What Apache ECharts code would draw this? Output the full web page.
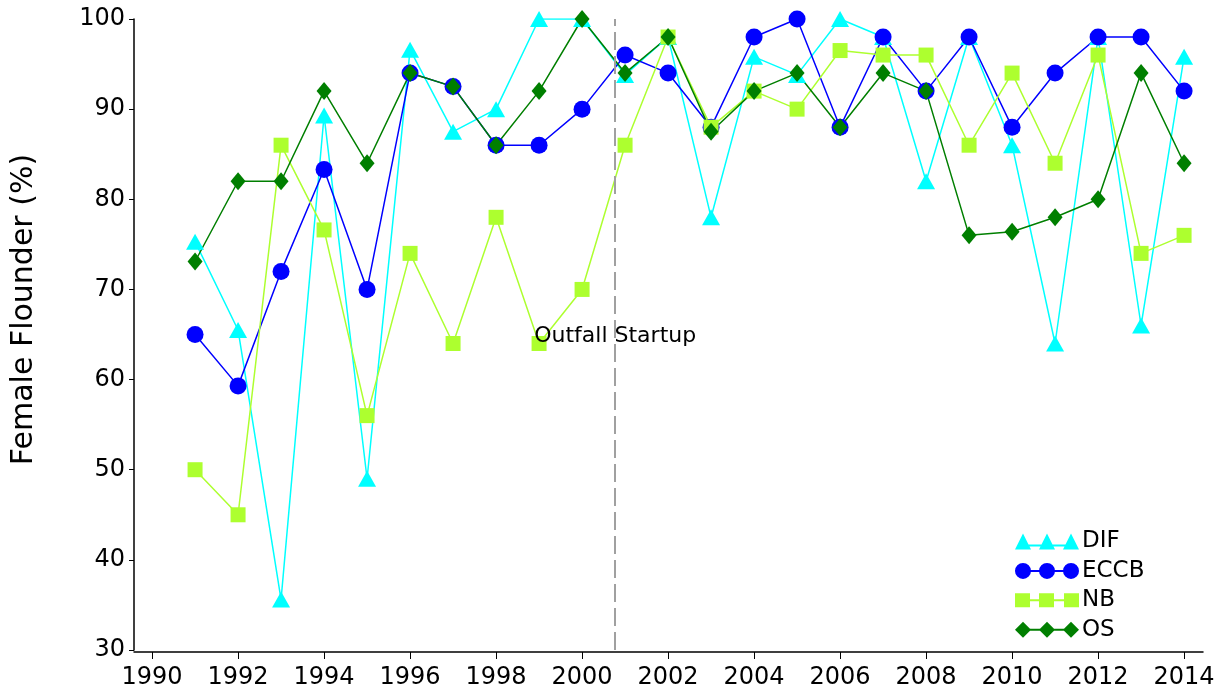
<!DOCTYPE html>
<html>
<head>
<meta charset="utf-8">
<script src="https://cdn.jsdelivr.net/npm/echarts@6/dist/echarts.min.js"></script>
<style>
  html, body { margin: 0; padding: 0; background: #fff; }
  #main { width: 1228px; height: 694px; }
</style>
</head>
<body>
<div id="main"></div>
<script>
//图表容器
let chart = echarts.init(document.getElementById('main'));

//年份
let years = [1991, 1992, 1993, 1994, 1995, 1996, 1997, 1998, 1999, 2000, 2001, 2002,
             2003, 2004, 2005, 2006, 2007, 2008, 2009, 2010, 2011, 2012, 2013, 2014];
//各站点雌性比例 (%)
let dif  = [75.3, 65.5, 35.6, 89.3, 49, 96.6, 87.5, 90, 100, 100, 93.8, 98,
            78, 95.8, 93.8, 100, 98, 82, 98, 86, 64, 98, 66, 95.8];
let eccb = [65, 59.3, 72, 83.3, 70, 94, 92.5, 86, 86, 90, 96, 94,
            88, 98, 100, 88, 98, 92, 98, 88, 94, 98, 98, 92];
let nb   = [50, 45, 86, 76.6, 56, 74, 64, 78, 64, 70, 86, 98,
            88, 92, 90, 96.5, 96, 96, 86, 94, 84, 96, 74, 76];
let os   = [73.1, 82, 82, 92, 84, 94, 92.5, 86, 92, 100, 94, 98,
            87.5, 92, 94, 88, 94, 92, 76, 76.4, 78, 80, 94, 84];
//x轴刻度
let xTicks = [1990, 1992, 1994, 1996, 1998, 2000, 2002, 2004, 2006, 2008, 2010, 2012, 2014];
//排污口启用时间
let startup = 2000.77;
let startupLabel = 'Outfall Startup';

let font = 'DejaVu Sans';

//组装 [年份, 值]
let pairs = function (vals) {
    let res = [];
    for (let i = 0; i < years.length; i++) {
        res.push([years[i], vals[i]]);
    }
    return res;
};

//图例图标：三个符号加连线
let icons = {
    'DIF': 'path://M0 16L8 0L16 16ZM24 16L32 0L40 16ZM48 16L56 0L64 16ZM8 11H56V13H8Z',
    'ECCB': 'path://M0 8A8 8 0 1 1 16 8A8 8 0 1 1 0 8ZM24 8A8 8 0 1 1 40 8A8 8 0 1 1 24 8ZM48 8A8 8 0 1 1 64 8A8 8 0 1 1 48 8ZM15 7H25V9H15ZM39 7H49V9H39Z',
    'NB': 'path://M0 1H15V15H0ZM24 1H39V15H24ZM49 1H64V15H49ZM14 7H25V9H14ZM38 7H50V9H38Z',
    'OS': 'path://M8 0L16 8L8 16L0 8ZM32 0L40 8L32 16L24 8ZM56 0L64 8L56 16L48 8ZM15 7H25V9H15ZM39 7H49V9H39Z'
};

function makeSeries(name, vals, color, symbol, size) {
    return {
        name: name,
        type: 'line',
        data: pairs(vals),
        symbol: symbol,
        symbolSize: size,
        showAllSymbol: true,
        lineStyle: { color: color, width: 1.5 },
        itemStyle: { color: color },
        emphasis: { disabled: true },
        animation: false
    };
}

let series = [
    makeSeries('DIF', dif, '#00FFFF', 'triangle', [18, 16]),
    makeSeries('ECCB', eccb, '#0000FF', 'circle', 17),
    makeSeries('NB', nb, '#ADFF2F', 'rect', 15),
    makeSeries('OS', os, '#007F00', 'diamond', [15, 18])
];

//启用线与文字
series[0].markLine = {
    silent: true,
    symbol: 'none',
    label: { show: false },
    lineStyle: { color: '#a0a0a0', width: 2, type: [18, 6] },
    data: [{ xAxis: startup }]
};
series[0].markPoint = {
    silent: true,
    symbol: 'circle',
    symbolSize: 0,
    label: {
        show: true,
        position: 'inside',
        formatter: startupLabel,
        color: '#000',
        fontFamily: font,
        fontSize: 22
    },
    data: [{ coord: [startup, 64.8] }]
};

let option = {
    backgroundColor: '#fff',
    textStyle: { fontFamily: font },
    grid: { left: 134, right: 25, top: 19, bottom: 44 },
    legend: {
        orient: 'vertical',
        left: 1015,
        top: 530,
        itemWidth: 64,
        itemHeight: 16,
        itemGap: 6.4,
        padding: 0,
        textStyle: { fontFamily: font, fontSize: 23, color: '#000', padding: [0, 0, 0, -2] },
        data: ['DIF', 'ECCB', 'NB', 'OS'].map(function (n) {
            return { name: n, icon: icons[n] };
        })
    },
    xAxis: {
        type: 'value',
        min: 1989.58,
        max: 2014.44,
        offset: 2,
        splitLine: { show: false },
        axisLine: { lineStyle: { color: '#000', width: 1.5 } },
        axisTick: { show: true, length: 7, customValues: xTicks, lineStyle: { color: '#000' } },
        axisLabel: {
            customValues: xTicks,
            formatter: function (v) { return String(v); },
            color: '#000',
            fontFamily: font,
            fontSize: 24,
            margin: 14
        }
    },
    yAxis: {
        type: 'value',
        min: 30,
        max: 100,
        interval: 10,
        name: 'Female Flounder (%)',
        nameLocation: 'middle',
        nameGap: 95,
        nameTextStyle: { color: '#000', fontFamily: font, fontSize: 30, padding: [0, 0, 0, 50] },
        splitLine: { show: false },
        axisLine: { show: true, lineStyle: { color: '#000', width: 1.5 } },
        axisTick: { show: true, length: 5, lineStyle: { color: '#000' } },
        axisLabel: { color: '#000', fontFamily: font, fontSize: 24, margin: 9 }
    },
    series: series
};

chart.setOption(option);
</script>
</body>
</html>
